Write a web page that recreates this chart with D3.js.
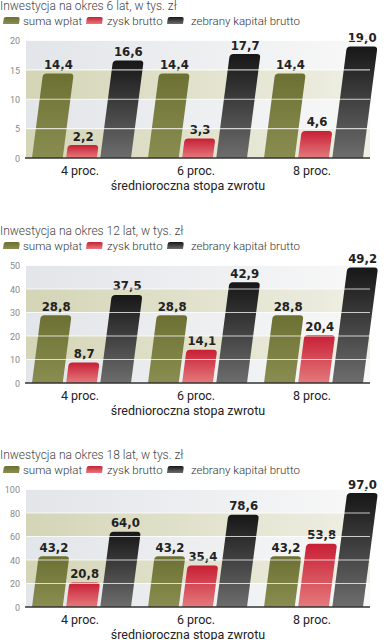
<!DOCTYPE html>
<html>
<head>
<meta charset="utf-8">
<script src="https://cdn.jsdelivr.net/npm/d3@7"></script>
<style>
  html, body { margin: 0; padding: 0; background: #fff; }
  svg { display: block; }
</style>
</head>
<body>
<svg id="chart" width="387" height="640"></svg>
<script>
// ---------- DATA ----------
const categories = ["4 proc.", "6 proc.", "8 proc."];
const seriesNames = ["suma wpłat", "zysk brutto", "zebrany kapitał brutto"];
const xAxisTitle = "średnioroczna stopa zwrotu";

const titles = [
  "Inwestycja na okres 6 lat, w tys. zł",
  "Inwestycja na okres 12 lat, w tys. zł",
  "Inwestycja na okres 18 lat, w tys. zł"
];

// 6 years
const sumaWplat6 = [14.4, 14.4, 14.4];
const zysk6 = [2.2, 3.3, 4.6];
const kapital6 = [16.6, 17.7, 19.0];
const ticks6 = [0, 5, 10, 15, 20];

// 12 years
const sumaWplat12 = [28.8, 28.8, 28.8];
const zysk12 = [8.7, 14.1, 20.4];
const kapital12 = [37.5, 42.9, 49.2];
const ticks12 = [0, 10, 20, 30, 40, 50];

// 18 years
const sumaWplat18 = [43.2, 43.2, 43.2];
const zysk18 = [20.8, 35.4, 53.8];
const kapital18 = [64.0, 78.6, 97.0];
const ticks18 = [0, 20, 40, 60, 80, 100];

const panels = [
  { title: titles[0], series: [sumaWplat6, zysk6, kapital6], ticks: ticks6, off: 0 },
  { title: titles[1], series: [sumaWplat12, zysk12, kapital12], ticks: ticks12, off: 225 },
  { title: titles[2], series: [sumaWplat18, zysk18, kapital18], ticks: ticks18, off: 449 }
];

// ---------- STYLE ----------
const svg = d3.select("#chart");
const defs = svg.append("defs");
const gradStops = [
  ["#6c7133", "#8a8d50"],
  ["#c81f35", "#e47a7c"],
  ["#171717", "#6d6d6d"]
];
gradStops.forEach((c, i) => {
  const g = defs.append("linearGradient").attr("id", "bar" + i)
    .attr("x1", 0).attr("y1", 0).attr("x2", 0).attr("y2", 1);
  g.append("stop").attr("offset", "0%").attr("stop-color", c[0]);
  g.append("stop").attr("offset", "100%").attr("stop-color", c[1]);
});
const bandGrads = [["#e2e5e9", "#f8f8f8"], ["#d4d5b6", "#efefe4"]];
bandGrads.forEach((c, i) => {
  const g = defs.append("linearGradient").attr("id", "band" + i)
    .attr("x1", 0).attr("y1", 0).attr("x2", 1).attr("y2", 0);
  g.append("stop").attr("offset", "0%").attr("stop-color", c[0]);
  g.append("stop").attr("offset", "100%").attr("stop-color", c[1]);
});

const plotLeft = 26, plotRight = 370;
const slant = 0.13;
const lightFont = "Roboto, 'Noto Sans', sans-serif";
const boldFont = "'DejaVu Sans Condensed', 'DejaVu Sans', sans-serif";

function barPath(x0, y0, y1, w, r) {
  const h = y0 - y1;
  const s = slant * h;
  r = Math.min(r, h / 2, w / 2);
  const rs = slant * r;
  return `M${x0},${y0}` +
    `L${x0 + s - rs},${y1 + r}` +
    `Q${x0 + s},${y1} ${x0 + s + r},${y1}` +
    `L${x0 + s + w - r},${y1}` +
    `Q${x0 + s + w},${y1} ${x0 + s + w - rs},${y1 + r}` +
    `L${x0 + w},${y0}Z`;
}

const x = d3.scaleBand().domain(categories).range([22, 370]).padding(0);
const xInner = d3.scaleBand().domain([0, 1, 2]).range([-48, 51]).paddingInner(0.1).paddingOuter(0);

panels.forEach(p => {
  const g = svg.append("g").attr("transform", `translate(0,${p.off})`);
  const yTop = 40.5, yBot = 158;
  const maxV = p.ticks[p.ticks.length - 1];
  const y = d3.scaleLinear().domain([0, maxV]).range([yBot, yTop]);

  // title
  g.append("text").attr("x", 0).attr("y", 10)
    .attr("font-family", lightFont).attr("font-size", 12).attr("font-weight", 300)
    .attr("fill", "#444").text(p.title);

  // legend
  const legX = [3, 86, 167];
  const legTextX = [23, 107, 191];
  seriesNames.forEach((n, i) => {
    g.append("path").attr("d", barPath(legX[i], 24, 17, 16, 2))
      .attr("fill", `url(#bar${i})`);
    g.append("text").attr("x", legTextX[i]).attr("y", 24.5)
      .attr("font-family", lightFont).attr("font-size", 11.5).attr("font-weight", 300)
      .attr("fill", "#333").text(n);
  });

  // bands
  const bands = d3.pairs(p.ticks).reverse();
  g.selectAll("rect.band").data(bands).enter().append("rect")
    .attr("class", "band")
    .attr("x", plotLeft).attr("width", plotRight - plotLeft)
    .attr("y", d => y(d[1])).attr("height", d => y(d[0]) - y(d[1]))
    .attr("fill", (d, i) => `url(#band${i % 2})`);

  // bars
  categories.forEach((c, ci) => {
    p.series.forEach((vals, si) => {
      const v = vals[ci];
      const bx = x(c) + x.bandwidth() / 2 + xInner(si);
      const w = xInner.bandwidth();
      g.append("path").attr("d", barPath(bx, y(0), y(v), w, 3.5))
        .attr("fill", `url(#bar${si})`);
      const topCx = bx + slant * (y(0) - y(v)) + w / 2;
      g.append("text").attr("x", topCx).attr("y", y(v) - 4.5)
        .attr("text-anchor", "middle")
        .attr("font-family", boldFont).attr("font-weight", "bold")
        .attr("font-size", 13).attr("fill", "#222")
        .text(d3.format(".1f")(v).replace(".", ","));
    });
  });

  // gridlines over bars
  g.selectAll("line.grid").data(p.ticks.slice(1)).enter().append("line")
    .attr("x1", plotLeft).attr("x2", plotRight)
    .attr("y1", d => y(d)).attr("y2", d => y(d))
    .attr("stroke", "#fff").attr("stroke-opacity", 0.75).attr("stroke-width", 1.2);

  // y axis labels
  const yAxis = d3.axisLeft(y).tickValues(p.ticks).tickSize(0).tickPadding(0);
  const ya = g.append("g").attr("transform", "translate(20,0)").call(yAxis);
  ya.select(".domain").remove();
  ya.selectAll("text").attr("font-family", lightFont).attr("font-size", 9)
    .attr("fill", "#8a8a8a").attr("dy", "0.35em");

  // baseline
  g.append("line").attr("x1", 25).attr("x2", plotRight)
    .attr("y1", y(0)).attr("y2", y(0))
    .attr("stroke", "#333").attr("stroke-width", 1.6);

  // x axis labels
  const xAxis = d3.axisBottom(x).tickSize(0).tickPadding(0);
  const xa = g.append("g").attr("transform", `translate(0,${y(0)})`).call(xAxis);
  xa.select(".domain").remove();
  xa.selectAll("text").attr("font-family", lightFont).attr("font-size", 12.5)
    .attr("font-weight", 400).attr("fill", "#222").attr("y", 17).attr("dy", 0);

  g.append("text").attr("x", 188).attr("y", y(0) + 31.5).attr("text-anchor", "middle")
    .attr("font-family", lightFont).attr("font-size", 12.5).attr("fill", "#222")
    .text(xAxisTitle);
});
</script>
</body>
</html>
